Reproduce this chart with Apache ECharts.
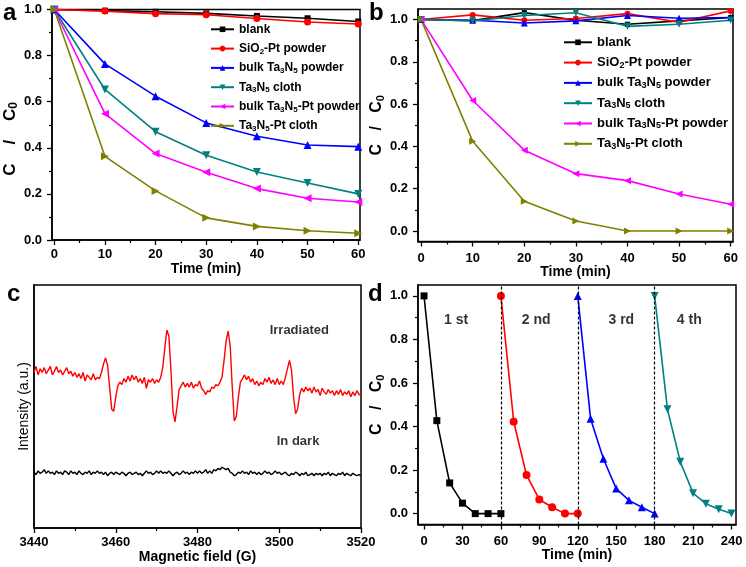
<!DOCTYPE html>
<html><head><meta charset="utf-8">
<script src="https://cdn.jsdelivr.net/npm/echarts@6/dist/echarts.min.js"></script>
<style>html,body{margin:0;padding:0;background:#fff}#chart{width:746px;height:567px}</style>
</head><body><div id="chart"></div>
<script>
// ---------- DATA ----------
const seriesNames = ['blank','SiO2-Pt powder','bulk Ta3N5 powder','Ta3N5 cloth','bulk Ta3N5-Pt powder','Ta3N5-Pt cloth'];

const timeA = [0,10,20,30,40,50,60];
const aBlank   = [1.0,0.995,0.99,0.983,0.972,0.962,0.948];
const aSiO2Pt  = [1.0,0.993,0.982,0.977,0.961,0.946,0.937];
const aBulk    = [1.0,0.764,0.624,0.508,0.45,0.412,0.405];
const aCloth   = [1.0,0.653,0.47,0.368,0.295,0.247,0.2];
const aBulkPt  = [1.0,0.548,0.375,0.294,0.223,0.181,0.165];
const aClothPt = [1.0,0.363,0.213,0.096,0.059,0.04,0.029];

const timeB = [0,10,20,30,40,50,60];
const bBlank   = [1.0,0.995,1.033,0.997,0.978,0.994,1.01];
const bSiO2Pt  = [1.0,1.022,0.997,1.005,1.028,0.987,1.041];
const bBulk    = [1.0,0.997,0.984,0.994,1.019,1.006,1.01];
const bCloth   = [1.0,0.994,1.019,1.032,0.968,0.978,0.997];
const bBulkPt  = [1.0,0.617,0.382,0.271,0.238,0.175,0.126];
const bClothPt = [1.0,0.424,0.14,0.047,0,0,0];

const eprStart = 3440, eprStep = 0.5;
const eprIrradiated = [
 64,66.5,63,65.5,64,66,63.5,65,66.5,63,
 64.5,66.5,64,65,63,64.5,66,63.5,64.5,62.5,
 64,62,63.5,61.5,64,60.5,63,62,61,63.5,
 61,62,61.5,64,67.5,70,67,58,49,48,
 54,58.5,60,59,61.5,60,62.5,60.5,63,61,
 62.5,60,61.5,59.5,62,57.5,61,60,61.5,59.5,
 61,60,62,66,74,81.5,79,65,48,43.7,
 50,57,58.5,60,58,59.5,58,60,57.5,59,
 58.5,60.5,57.5,56.5,55,56.5,56,58,57.5,59,
 58.5,60,62,69,77,81,75,58,44,46,
 54,60,61.5,63,61,62.5,60,61.5,59,60.5,
 58.5,60,59,61.5,60,62,59.5,61,59,61.5,
 59,60.5,59,62,65.5,69,65,54,47,49,
 55,57.5,56,58,56.5,57.5,55.5,58,56,57,
 54.5,57.5,56,55,57,55.5,56.5,54.5,56.5,55,
 57,54.5,56,55,56.5,54,56,54.5,56.5,55,
 54.5];
const eprDark = [
 23,22,23.5,22.5,23,24,22.5,23.5,22.5,23,
 22,23.5,22.5,23,22,23.5,23,22,23.5,22.5,
 23,22,23.5,22.5,22,23,22.5,23.5,22,23,
 22.5,23.5,22.5,23,22,23,21.5,22.5,23,22,
 23,22.5,22,23,22.5,21.5,22.5,23,22,22.5,
 23,22,22.5,21.5,22.5,23.5,22.5,23,22,22.5,
 23.5,22.5,23.5,22.5,23,22.5,23.5,22.5,21.5,22.5,
 23,22,22.5,23.5,22.5,23,22,23,22.5,23.5,
 22.5,23.5,22.5,23,24,22.5,23.5,22.5,24,23.5,
 24.5,24,25,24.5,24,24.5,23,22.5,21.5,22,
 23,22.5,23.5,22.5,23,22,23.5,22.5,23,22,
 23,22,22.5,23.5,22.5,23,22,22.5,23.5,22.5,
 23,22,22.5,23,22,21.5,22.5,22,23,22.5,
 21.5,22.5,22,23,21.5,22,22.5,21.5,22.5,22,
 22.5,21.5,22.5,22,23,21.5,22.5,22,21.5,22.5,
 22,23,21.5,22.5,22,21.5,22.5,22,21.5,22,
 21.5];
const eprLabels = ['Irradiated','In dark'];
const eprLabelX = [3504.9, 3504.6];
const eprLabelY = [81.5, 35.8];

const cycleTimes1 = [0,10,20,30,40,50,60];
const cycle1 = [1.0,0.427,0.141,0.048,0,0,0];
const cycleTimes2 = [60,70,80,90,100,110,120];
const cycle2 = [1.0,0.422,0.177,0.065,0.029,0,0];
const cycleTimes3 = [120,130,140,150,160,170,180];
const cycle3 = [1.0,0.436,0.252,0.115,0.061,0.029,0];
const cycleTimes4 = [180,190,200,210,220,230,240];
const cycle4 = [1.0,0.479,0.238,0.094,0.045,0.02,0];
const cycleLabels = ['1 st','2 nd','3 rd','4 th'];
const cycleLabelX = [25, 87.5, 154, 207];
const cycleLabelY = [0.89, 0.89, 0.89, 0.89];
const cycleBreaks = [60, 120, 180];

const timeTicks60 = [0,10,20,30,40,50,60];
const timeMinor60 = [5,15,25,35,45,55];
const ratioTicks = [0,0.2,0.4,0.6,0.8,1.0];
const ratioMinor = [0.1,0.3,0.5,0.7,0.9];
const fieldTicks = [3440,3460,3480,3500,3520];
const fieldMinor = [3450,3470,3490,3510];
const cycleTicks = [0,30,60,90,120,150,180,210,240];
const cycleMinor = [15,45,75,105,135,165,195,225];

// ---------- STYLE ----------
const FONT = '"Liberation Sans", Arial, sans-serif';
const styles = [
  {color:'#000000', symbol:'rect', rot:0, size:6},
  {color:'#ff0000', symbol:'circle', rot:0, size:7},
  {color:'#0000ff', symbol:'triangle', rot:0, size:8},
  {color:'#008080', symbol:'triangle', rot:180, size:8},
  {color:'#ff00ff', symbol:'triangle', rot:90, size:8},
  {color:'#808000', symbol:'triangle', rot:-90, size:8}
];
const subRich = (fs) => ({ s: { fontSize: fs, fontWeight: 'bold', fontFamily: FONT, verticalAlign: 'bottom', lineHeight: fs } });
const richName = (n) => n.replace(/([A-Za-z])(\d)/g, '$1{s|$2}');

function pairs(x, y) { return x.map((v, i) => [v, y[i]]); }
function lineSeries(name, x, y, st, xi, yi, size) {
  return { type:'line', name, xAxisIndex:xi, yAxisIndex:yi, data: pairs(x, y),
    symbol: st.symbol, symbolRotate: st.rot, symbolSize: size || st.size,
    lineStyle:{ color: st.color, width: 1.6 }, itemStyle:{ color: st.color }, silent:true };
}

const axisLineStyle = { color:'#000', width:1.5 };
function majorX(grid, min, max, ticks, name, margin, gap, fmt) {
  return { gridIndex:grid, type:'value', min, max, position:'bottom',
    axisLine:{ show:true, onZero:false, lineStyle:axisLineStyle },
    axisTick:{ show:true, inside:false, length:5, customValues:ticks, lineStyle:{color:'#000', width:1.3} },
    axisLabel:{ show:true, customValues:ticks, margin, fontFamily:FONT, fontWeight:'bold', fontSize:13, color:'#000', formatter: fmt || (v => String(v)) },
    splitLine:{ show:false },
    name, nameLocation:'middle', nameGap:gap,
    nameTextStyle:{ fontFamily:FONT, fontWeight:'bold', fontSize:14, color:'#000' } };
}
function minorX(grid, min, max, ticks) {
  return { gridIndex:grid, type:'value', min, max, position:'bottom',
    axisLine:{ show:false, onZero:false }, axisLabel:{ show:false }, splitLine:{ show:false },
    axisTick:{ show:true, inside:false, length:3, customValues:ticks, lineStyle:{color:'#000', width:1.2} } };
}
function majorY(grid, min, max, ticks, gap, margin, yName, fs) {
  return { gridIndex:grid, type:'value', min, max, position:'left',
    axisLine:{ show:true, onZero:false, lineStyle:axisLineStyle },
    axisTick:{ show:true, inside:false, length:5, customValues:ticks, lineStyle:{color:'#000', width:1.3} },
    axisLabel:{ show:true, customValues:ticks, margin, fontFamily:FONT, fontWeight:'bold', fontSize:13, color:'#000', formatter: v => v.toFixed(1) },
    splitLine:{ show:false },
    name: yName, nameLocation:'middle', nameGap:gap,
    nameTextStyle:{ fontFamily:FONT, fontWeight:'bold', fontSize:fs, color:'#000', lineHeight:fs + 2, rich: subRich(Math.round(fs * 0.68)) } };
}
function minorY(grid, min, max, ticks) {
  return { gridIndex:grid, type:'value', min, max, position:'left',
    axisLine:{ show:false, onZero:false }, axisLabel:{ show:false }, splitLine:{ show:false },
    axisTick:{ show:true, inside:false, length:3, customValues:ticks, lineStyle:{color:'#000', width:1.2} } };
}
const gridBase = { show:true, borderColor:'#000', borderWidth:1.5, backgroundColor:'transparent', containLabel:false };

// ---------- SERIES ----------
const aData = [aBlank, aSiO2Pt, aBulk, aCloth, aBulkPt, aClothPt];
const bData = [bBlank, bSiO2Pt, bBulk, bCloth, bBulkPt, bClothPt];
const series = [];
aData.forEach((d, i) => series.push(lineSeries(seriesNames[i], timeA, d, styles[i], 0, 0)));
bData.forEach((d, i) => series.push(lineSeries(seriesNames[i], timeB, d, styles[i], 2, 2, styles[i].size - 1)));

const eprField = eprIrradiated.map((_, i) => eprStart + i * eprStep);
series.push({ type:'line', name:'irr', xAxisIndex:4, yAxisIndex:4, data: pairs(eprField, eprIrradiated), showSymbol:false, symbol:'none', lineStyle:{color:'#ff0000', width:1.4}, silent:true });
series.push({ type:'line', name:'dark', xAxisIndex:4, yAxisIndex:4, data: pairs(eprField, eprDark), showSymbol:false, symbol:'none', lineStyle:{color:'#000000', width:1.4}, silent:true });
series.push({ type:'scatter', xAxisIndex:4, yAxisIndex:4, symbolSize:0, silent:true,
  data: eprLabels.map((t, i) => ({ value:[eprLabelX[i], eprLabelY[i]], label:{ show:true, position:'inside', formatter:t,
    fontFamily:FONT, fontWeight:'bold', fontSize:13, color:'#000' } })) });

const cyc = [[cycleTimes1, cycle1], [cycleTimes2, cycle2], [cycleTimes3, cycle3], [cycleTimes4, cycle4]];
const cycStyles = [styles[0], styles[1], styles[2], styles[3]];
cyc.forEach((c, i) => {
  const s = lineSeries('cycle' + (i + 1), c[0], c[1], cycStyles[i], 6, 5, i === 0 ? 7 : 8);
  if (i === 0) {
    s.markLine = { silent:true, symbol:['none','none'], label:{show:false},
      lineStyle:{ color:'#000', type:[3,2], width:1.2 },
      data: cycleBreaks.map(v => ({ xAxis: v })) };
  }
  series.push(s);
});
series.push({ type:'scatter', xAxisIndex:6, yAxisIndex:5, symbolSize:0, silent:true,
  data: cycleLabels.map((t, i) => ({ value:[cycleLabelX[i], cycleLabelY[i]], label:{ show:true, position:'inside', formatter:t,
    fontFamily:FONT, fontWeight:'bold', fontSize:14, color:'#000' } })) });

const legendBase = { orient:'vertical', padding:0, selectedMode:false, data: seriesNames,
  formatter: n => richName(n) };

const option = {
  animation:false,
  backgroundColor:'#fff',
  grid:[
    Object.assign({ left:47, top:9.5, width:313, height:230.5 }, gridBase),
    Object.assign({ left:418, top:9, width:315, height:232.5 }, gridBase),
    Object.assign({ left:34, top:285, width:327, height:243 }, gridBase),
    Object.assign({ left:418, top:285, width:318, height:239.5 }, gridBase)
  ],
  xAxis:[
    majorX(0, -0.45, 60.35, timeTicks60, 'Time (min)', 8, 20),
    minorX(0, -0.45, 60.35, timeMinor60),
    majorX(1, -0.6, 60.45, timeTicks60, 'Time (min)', 10, 21),
    minorX(1, -0.6, 60.45, timeMinor60),
    majorX(2, 3440, 3520, fieldTicks, 'Magnetic field (G)', 8, 19),
    minorX(2, 3440, 3520, fieldMinor),
    majorX(3, -4.7, 243.5, cycleTicks, 'Time (min)', 10, 23),
    minorX(3, -4.7, 243.5, cycleMinor)
  ],
  yAxis:[
    majorY(0, 0, 1.0, ratioTicks, 28, 10, 'C    /    C{s|0}      ', 17),
    minorY(0, 0, 1.0, ratioMinor),
    majorY(1, -0.05, 1.05, ratioTicks, 20, 10, 'C   /   C{s|0}', 16),
    minorY(1, -0.05, 1.05, ratioMinor),
    { gridIndex:2, type:'value', min:0, max:100, position:'left',
      axisLine:{ show:true, onZero:false, lineStyle:axisLineStyle }, axisTick:{show:false}, axisLabel:{show:false}, splitLine:{show:false},
      name:'Intensity (a.u.)', nameLocation:'middle', nameGap:3,
      nameTextStyle:{ fontFamily:FONT, fontWeight:'normal', fontSize:14, color:'#000' } },
    majorY(3, -0.05, 1.05, ratioTicks, 20, 10, 'C   /   C{s|0}', 16),
    minorY(3, -0.05, 1.05, ratioMinor)
  ],
  legend:[
    Object.assign({}, legendBase, { left:210, top:22.3, itemWidth:23, itemHeight:7, itemGap:5.3,
      textStyle:{ fontFamily:FONT, fontWeight:'bold', fontSize:12, color:'#000', lineHeight:14, rich: subRich(8) } }),
    Object.assign({}, legendBase, { left:563, top:35.3, itemWidth:28, itemHeight:7, itemGap:6.3,
      textStyle:{ fontFamily:FONT, fontWeight:'bold', fontSize:13, color:'#000', lineHeight:14, rich: subRich(9) } })
  ],
  graphic:[
    { type:'text', left:3, top:1, style:{ text:'a', font:'bold 24px ' + FONT, fill:'#000' } },
    { type:'text', left:369, top:1, style:{ text:'b', font:'bold 24px ' + FONT, fill:'#000' } },
    { type:'text', left:7, top:282, style:{ text:'c', font:'bold 24px ' + FONT, fill:'#000' } },
    { type:'text', left:368, top:282, style:{ text:'d', font:'bold 24px ' + FONT, fill:'#000' } }
  ],
  series
};
const chart = echarts.init(document.getElementById('chart'), null, { renderer:'canvas' });
chart.setOption(option);
</script></body></html>
